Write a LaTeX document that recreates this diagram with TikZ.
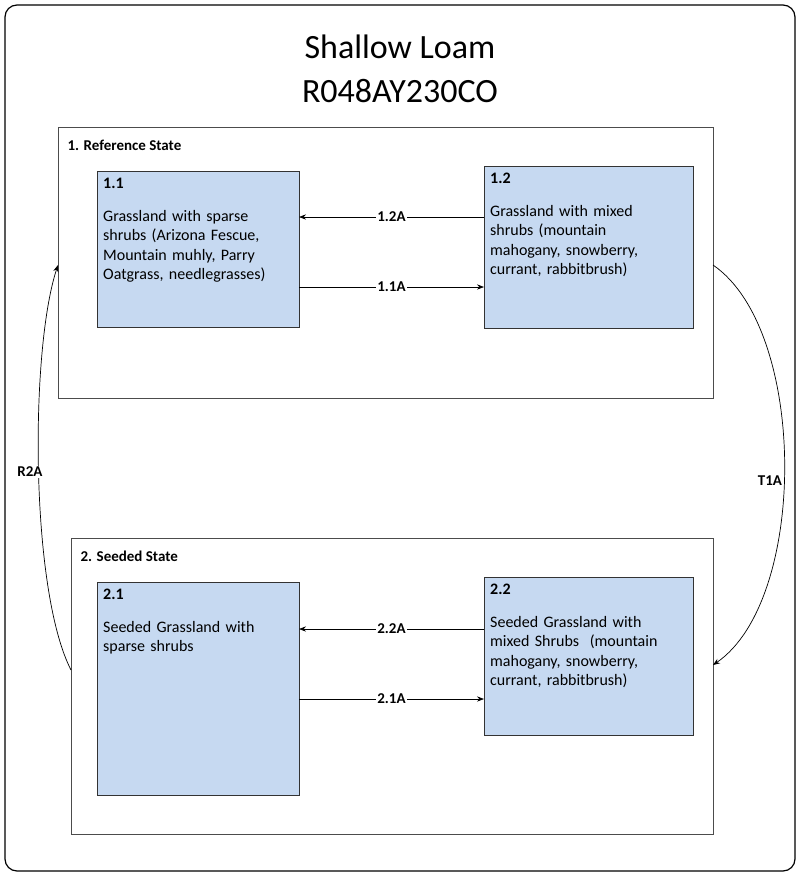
\documentclass[tikz,border=0pt]{standalone}
\usepackage{fontspec}
\setmainfont{Carlito}
\usetikzlibrary{arrows.meta}
\definecolor{phasefill}{HTML}{C6D9F1}
\begin{document}
\begin{tikzpicture}[x=1pt,y=-1pt,
  phase/.style={draw=black!80,fill=phasefill,line width=0.8pt},
  statebox/.style={draw=black!70,line width=0.8pt},
  txt/.style={anchor=north west,align=left,text width=195pt,font=\fontsize{16}{19.5}\selectfont,inner sep=0pt},
  arr/.style={-{Stealth[length=7pt]},line width=0.7pt},
  lab/.style={font=\bfseries\fontsize{15}{18}\selectfont,fill=white,inner sep=1pt}]
\useasboundingbox (0,0) rectangle (800,876);
\draw[rounded corners=12pt,line width=1.2pt] (5,5) rectangle (795,871);
\node[font=\fontsize{34}{40}\selectfont] (t1) at (400,47) {Shallow Loam};
\node[font=\fontsize{34}{40}\selectfont] (t2) at (400,91) {R048AY230CO};
\draw[statebox] (58,127) rectangle (713,398);
\node[anchor=west,font=\bfseries\fontsize{15}{18}\selectfont] (s1) at (64,145) {1. Reference State};
\node[phase,minimum width=202pt,minimum height=156pt,anchor=north west] (b11) at (97,171) {};
\node[phase,minimum width=209pt,minimum height=162pt,anchor=north west] (b12) at (484,166) {};
\node[txt] at (103,178) {\textbf{1.1}\\[13pt]Grassland with sparse\\shrubs (Arizona Fescue,\\Mountain muhly, Parry\\Oatgrass, needlegrasses)};
\node[txt] at (490,173) {\textbf{1.2}\\[13pt]Grassland with mixed\\shrubs (mountain\\mahogany, snowberry,\\currant, rabbitbrush)};
\draw[statebox] (71,538) rectangle (713,834);
\node[anchor=west,font=\bfseries\fontsize{15}{18}\selectfont] (s2) at (77,556) {2. Seeded State};
\node[phase,minimum width=202pt,minimum height=213pt,anchor=north west] (b21) at (97,582) {};
\node[phase,minimum width=209pt,minimum height=158pt,anchor=north west] (b22) at (484,577) {};
\node[txt] at (103,589) {\textbf{2.1}\\[13pt]Seeded Grassland with\\sparse shrubs};
\node[txt] at (490,584) {\textbf{2.2}\\[13pt]Seeded Grassland with\\mixed Shrubs\ \ (mountain\\mahogany, snowberry,\\currant, rabbitbrush)};
\coordinate (a1) at (484,217); \coordinate (a2) at (299,217);
\draw[arr] (a1) -- node[lab]{1.2A} (a2);
\coordinate (a3) at (299,287); \coordinate (a4) at (484,287);
\draw[arr] (a3) -- node[lab]{1.1A} (a4);
\coordinate (a5) at (484,629); \coordinate (a6) at (299,629);
\draw[arr] (a5) -- node[lab]{2.2A} (a6);
\coordinate (a7) at (299,699); \coordinate (a8) at (484,699);
\draw[arr] (a7) -- node[lab]{2.1A} (a8);
\coordinate (c1) at (713,265); \coordinate (c2) at (713,665);
\draw[arr] (c1) .. controls (808,330) and (808,600) .. (c2);
\node[lab] (lt) at (770,481) {T1A};
\coordinate (c3) at (71,670); \coordinate (c4) at (58,265);
\draw[arr] (c3) .. controls (30,590) and (30,350) .. (c4);
\node[lab] (lr) at (30,472) {R2A};
\end{tikzpicture}
\end{document}
